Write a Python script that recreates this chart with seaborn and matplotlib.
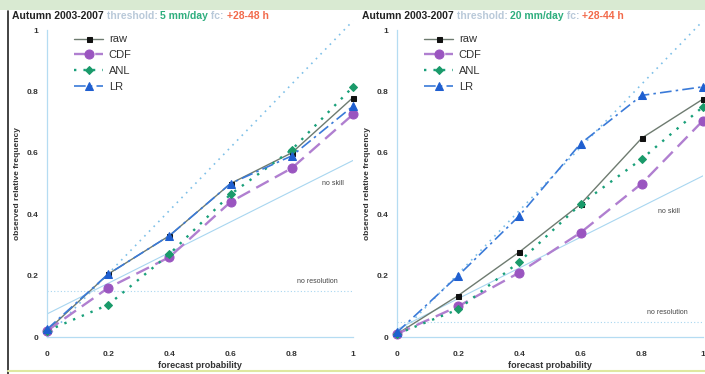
import matplotlib
matplotlib.use("Agg")
import matplotlib.pyplot as plt
import seaborn as sns
import numpy as np
from matplotlib.patches import Rectangle
from matplotlib.lines import Line2D

sns.set_style("white")
plt.rcParams['font.family'] = ['Liberation Sans', 'DejaVu Sans']

# ---------------- data ----------------
prob = [0.0, 0.2, 0.4, 0.6, 0.8, 1.0]

raw_5 = [0.02, 0.205, 0.33, 0.50, 0.60, 0.78]
cdf_5 = [0.02, 0.16, 0.26, 0.44, 0.55, 0.725]
anl_5 = [0.02, 0.105, 0.27, 0.465, 0.61, 0.815]
lr_5 = [0.025, 0.205, 0.33, 0.50, 0.59, 0.752]
clim_5 = 0.15

raw_20 = [0.01, 0.135, 0.277, 0.433, 0.648, 0.775]
cdf_20 = [0.01, 0.10, 0.21, 0.34, 0.50, 0.705]
anl_20 = [0.01, 0.09, 0.245, 0.433, 0.58, 0.75]
lr_20 = [0.015, 0.20, 0.395, 0.63, 0.787, 0.815]
clim_20 = 0.05

thresholds = ["5 mm/day", "20 mm/day"]
leads = ["+28-48 h", "+28-44 h"]
ticks = [0, 0.2, 0.4, 0.6, 0.8, 1]
tick_labels = ["0", "0.2", "0.4", "0.6", "0.8", "1"]
series_names = ["raw", "CDF", "ANL", "LR"]

# ---------------- styles ----------------
styles = {
    "raw": dict(color="#6e7b70", marker="s", ms=3.6, mfc="#111111", mec="#111111", ls="-", lw=1.0),
    "CDF": dict(color="#b07fd0", marker="o", ms=6.5, mfc="#9a55c0", mec="#9a55c0", ls=(0, (6, 3)), lw=1.7),
    "ANL": dict(color="#1aa07a", marker="D", ms=4.2, mfc="#1a9a6a", mec="#1a9a6a", ls=(0, (1, 3)), lw=1.7),
    "LR": dict(color="#3a7ad8", marker="^", ms=5.5, mfc="#1f5fd0", mec="#1f5fd0", ls=(0, (7, 2.5, 1.5, 2.5)), lw=1.2),
}

W, H = 705, 374
fig = plt.figure(figsize=(W / 100, H / 100), dpi=100)
fig.patch.set_facecolor("white")

# top green band and frame lines
fig.patches.append(Rectangle((0, 1 - 10 / H), 1, 10 / H, transform=fig.transFigure,
                             facecolor="#d9ead2", edgecolor="none", zorder=0))
fig.add_artist(Line2D([8 / W, 8 / W], [0, 1 - 11 / H], transform=fig.transFigure,
                      color="#222222", lw=1.2))
fig.add_artist(Line2D([8 / W, 1], [3 / H, 3 / H], transform=fig.transFigure,
                      color="#dfe8a0", lw=1.5))

def add_axes_px(x0, x1, y0, y1):
    # x0,x1 pixel positions of data 0 and 1; y0 pixel (from top) of data 0, y1 of data 1
    return fig.add_axes([x0 / W, 1 - y0 / H, (x1 - x0) / W, (y0 - y1) / H])

panels = [
    (add_axes_px(47, 353, 337, 30), raw_5, cdf_5, anl_5, lr_5, clim_5, 0),
    (add_axes_px(397, 703, 337, 30), raw_20, cdf_20, anl_20, lr_20, clim_20, 1),
]

for ax, raw, cdf, anl, lr, clim, i in panels:
    ax.set_facecolor("none")
    ax.set_xlim(0, 1)
    ax.set_ylim(0, 1)
    # reference lines
    xs = np.array([0, 1.0])
    ax.plot([0, 1.0], [0, 1.03], ls=(0, (1, 3)), color="#7fc0e8", lw=1.2, clip_on=False, zorder=1)
    ax.plot(xs, (xs + clim) / 2, color="#a8d6f0", lw=0.8, zorder=1)
    ax.plot(xs, [clim, clim], ls=(0, (1, 2)), color="#a8d6f0", lw=0.8, zorder=1)

    for name, vals in zip(series_names, [raw, cdf, anl, lr]):
        st = styles[name]
        sns.lineplot(x=prob, y=vals, ax=ax, color=st["color"], marker=st["marker"],
                     markersize=st["ms"], markerfacecolor=st["mfc"], markeredgecolor=st["mec"],
                     linestyle=st["ls"], linewidth=st["lw"], label=name, clip_on=False, zorder=3)

    for s in ["top", "right"]:
        ax.spines[s].set_visible(False)
    for s in ["left", "bottom"]:
        ax.spines[s].set_color("#b5dcf2")
        ax.spines[s].set_linewidth(0.9)
    ax.set_xticks(ticks)
    ax.set_xticklabels(tick_labels)
    ax.set_yticks(ticks)
    ax.set_yticklabels(tick_labels)
    ax.tick_params(axis="both", length=0, labelsize=6, colors="#333333")
    ax.tick_params(axis="x", pad=10)
    ax.tick_params(axis="y", pad=6)
    for lab in ax.get_xticklabels() + ax.get_yticklabels():
        lab.set_fontweight("bold")
    ax.set_xlabel("forecast probability", fontsize=6.5, fontweight="bold", color="#333333", labelpad=2)
    ax.set_ylabel("observed relative frequency", fontsize=6, fontweight="bold", color="#333333", labelpad=4)

    ns_xy = [(0.935, 0.50), (0.89, 0.41)][i]
    nr_xy = [(0.885, 0.18), (0.885, 0.08)][i]
    ax.text(*ns_xy, "no skill", fontsize=5, color="#444444", ha="center", va="center")
    ax.text(*nr_xy, "no resolution", fontsize=5, color="#444444", ha="center", va="center")

    leg = ax.legend(loc="upper left", bbox_to_anchor=(0.075, 1.0), frameon=False, fontsize=8,
                    handlelength=2.6, handletextpad=0.5, labelspacing=0.52, borderaxespad=0)
    for t in leg.get_texts():
        t.set_color("#333333")

    # title parts
    tx = [12, 362][i]
    prev = fig.text(tx / W, 1 - 19 / H, "Autumn 2003-2007", fontsize=7.5, fontweight="bold",
                    color="#222222", va="baseline")
    parts = [(" threshold: ", "#b9c9d9"), (thresholds[i], "#2fae7e"), (" fc: ", "#b9c9d9"), (leads[i], "#f26a4b")]
    for txt, col in parts:
        prev = ax.annotate(txt, xy=(1, 0), xycoords=prev, xytext=(0, 0), textcoords="offset points",
                           fontsize=7.5, fontweight="bold", color=col, va="bottom", ha="left",
                           annotation_clip=False)

fig.savefig("out.png", dpi=100)
